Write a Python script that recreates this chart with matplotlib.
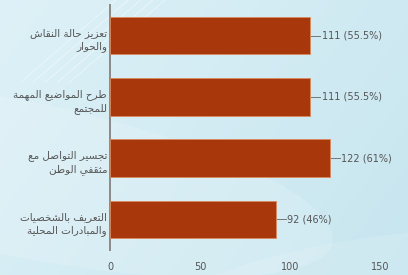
"""Horizontal bar chart with Arabic category labels on a light blue background."""
import matplotlib
matplotlib.use("Agg")
import matplotlib.pyplot as plt
import numpy as np
from matplotlib.patches import Ellipse

CATEGORIES = [
    "تعزيز حالة النقاش\nوالحوار",
    "طرح المواضيع المهمة\nللمجتمع",
    "تجسير التواصل مع\nمثقفي الوطن",
    "التعريف بالشخصيات\nوالمبادرات المحلية",
]
COUNTS = [111, 111, 122, 92]
PERCENTS = ["55.5%", "55.5%", "61%", "46%"]
X_TICKS = [0, 50, 100, 150]

# minimal Arabic shaping: (isolated, final, initial, medial)
FORMS = {
    "ا": (0xFE8D, 0xFE8E, None, None), "ب": (0xFE8F, 0xFE90, 0xFE91, 0xFE92),
    "ة": (0xFE93, 0xFE94, None, None), "ت": (0xFE95, 0xFE96, 0xFE97, 0xFE98),
    "ث": (0xFE99, 0xFE9A, 0xFE9B, 0xFE9C), "ج": (0xFE9D, 0xFE9E, 0xFE9F, 0xFEA0),
    "ح": (0xFEA1, 0xFEA2, 0xFEA3, 0xFEA4), "خ": (0xFEA5, 0xFEA6, 0xFEA7, 0xFEA8),
    "د": (0xFEA9, 0xFEAA, None, None), "ذ": (0xFEAB, 0xFEAC, None, None),
    "ر": (0xFEAD, 0xFEAE, None, None), "ز": (0xFEAF, 0xFEB0, None, None),
    "س": (0xFEB1, 0xFEB2, 0xFEB3, 0xFEB4), "ش": (0xFEB5, 0xFEB6, 0xFEB7, 0xFEB8),
    "ص": (0xFEB9, 0xFEBA, 0xFEBB, 0xFEBC), "ض": (0xFEBD, 0xFEBE, 0xFEBF, 0xFEC0),
    "ط": (0xFEC1, 0xFEC2, 0xFEC3, 0xFEC4), "ظ": (0xFEC5, 0xFEC6, 0xFEC7, 0xFEC8),
    "ع": (0xFEC9, 0xFECA, 0xFECB, 0xFECC), "غ": (0xFECD, 0xFECE, 0xFECF, 0xFED0),
    "ف": (0xFED1, 0xFED2, 0xFED3, 0xFED4), "ق": (0xFED5, 0xFED6, 0xFED7, 0xFED8),
    "ك": (0xFED9, 0xFEDA, 0xFEDB, 0xFEDC), "ل": (0xFEDD, 0xFEDE, 0xFEDF, 0xFEE0),
    "م": (0xFEE1, 0xFEE2, 0xFEE3, 0xFEE4), "ن": (0xFEE5, 0xFEE6, 0xFEE7, 0xFEE8),
    "ه": (0xFEE9, 0xFEEA, 0xFEEB, 0xFEEC), "و": (0xFEED, 0xFEEE, None, None),
    "ى": (0xFEEF, 0xFEF0, None, None), "ي": (0xFEF1, 0xFEF2, 0xFEF3, 0xFEF4),
}


def shape_line(s):
    s = s.replace("لا", "\uFEFB")
    out = []
    for i, ch in enumerate(s):
        if ch == "\uFEFB":
            prev = s[i - 1] if i > 0 else ""
            joined = prev in FORMS and FORMS[prev][2] is not None
            out.append("\uFEFC" if joined else "\uFEFB")
            continue
        if ch not in FORMS:
            out.append(ch)
            continue
        prev = s[i - 1] if i > 0 else ""
        nxt = s[i + 1] if i + 1 < len(s) else ""
        f = FORMS[ch]
        cp = prev in FORMS and FORMS[prev][2] is not None
        cn = f[2] is not None and (nxt in FORMS or nxt == "\uFEFB")
        if cp and cn:
            code = f[3]
        elif cp:
            code = f[1]
        elif cn:
            code = f[2]
        else:
            code = f[0]
        out.append(chr(code))
    return "".join(reversed(out))


def shape(s):
    return "\n".join(shape_line(l) for l in s.split("\n"))


fig = plt.figure(figsize=(4.08, 2.75), dpi=100)

# background gradient + soft swooshes
bg = fig.add_axes([0, 0, 1, 1])
gx, gy = np.meshgrid(np.linspace(0, 1, 200), np.linspace(0, 1, 140))
t = np.clip(0.6 * gx + 0.3 * gy, 0, 1)
c0 = np.array([0.87, 0.945, 0.97])
c1 = np.array([0.77, 0.895, 0.935])
img = c0[None, None, :] * (1 - t[..., None]) + c1[None, None, :] * t[..., None]
bg.imshow(img, extent=[0, 1, 0, 1], aspect="auto", origin="upper")
bg.add_patch(Ellipse((0.05, 0.35), 1.6, 0.55, angle=-18, color="white",
                     alpha=0.15, lw=0))
bg.add_patch(Ellipse((1.0, -0.1), 1.3, 0.5, angle=10, color="white",
                     alpha=0.12, lw=0))
for k in range(5):
    bg.plot([0.05 + 0.03 * k, 0.30 + 0.03 * k], [0.70, 1.02],
            color="white", lw=0.6, alpha=0.5)
bg.set_xlim(0, 1)
bg.set_ylim(0, 1)
bg.axis("off")

ax = fig.add_axes([110 / 408, 1 - 250 / 275, 288 / 408, 245 / 275])
ax.patch.set_visible(False)
y = np.arange(len(CATEGORIES))
ax.barh(y, COUNTS, height=0.61, color="#a8380b", edgecolor="#d98a5e",
        linewidth=0.6, zorder=3)
ax.set_xlim(0, 160)
ax.set_ylim(len(CATEGORIES) - 0.5, -0.5)

for i, (v, p) in enumerate(zip(COUNTS, PERCENTS)):
    ax.plot([v + 0.8, v + 5.5], [i, i], color="#777777", lw=0.7, zorder=3)
    ax.text(v + 6.5, i, f"{v} ({p})", va="center", ha="left",
            fontsize=7, color="#555555")
    ax.text(-1.6, i + 0.07, shape(CATEGORIES[i]), ha="right", va="center",
            multialignment="right", fontsize=7.5, color="#555555",
            family="DejaVu Sans", linespacing=1.4)

ax.set_yticks([])
ax.set_xticks(X_TICKS)
ax.set_xticklabels([str(v) for v in X_TICKS], fontsize=7, color="#555555")
ax.tick_params(axis="x", length=0, pad=9)
for s in ("top", "right", "bottom"):
    ax.spines[s].set_visible(False)
ax.spines["left"].set_color("#8a8a8a")
ax.spines["left"].set_linewidth(1.4)

fig.savefig("out.png", dpi=100)
